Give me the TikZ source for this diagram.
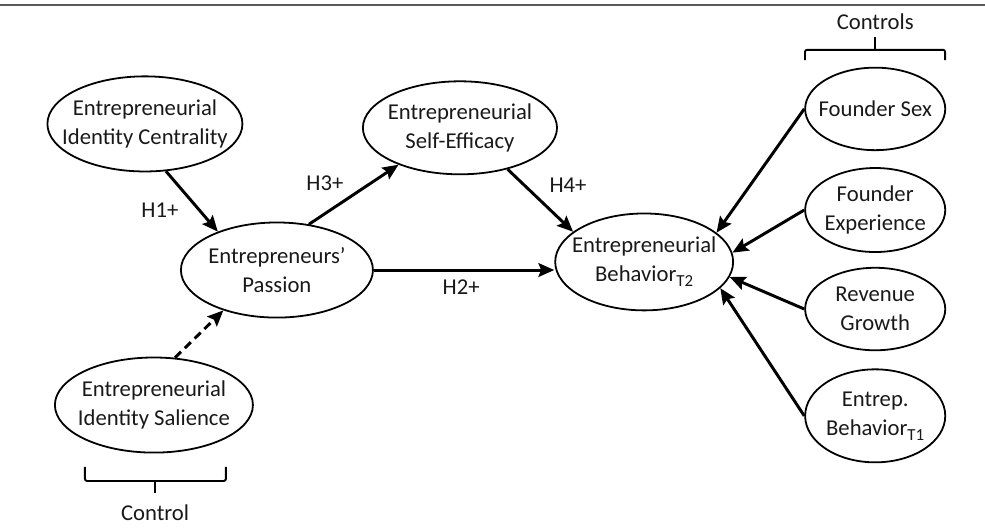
\documentclass[tikz,border=0pt]{standalone}
\usepackage{fontspec}
\setmainfont{Carlito}
\usetikzlibrary{shapes,arrows.meta,positioning}
\newcommand{\tsub}[1]{\raisebox{-0.45ex}{\fontsize{16}{16}\selectfont #1}}

\begin{document}
\begin{tikzpicture}[var/.style={ellipse,draw,line width=1.7pt,inner xsep=-14pt,inner ysep=0pt,align=center,minimum width=6.4cm,minimum height=3.17cm},
                    ctl/.style={var,minimum width=4.67cm,minimum height=2.75cm},
                    arr/.style={-{Stealth[length=15pt,width=13pt,inset=2.5pt]},line width=2.8pt},
                    brace/.style={line width=1.8pt,rounded corners=2pt},
                    every node/.style={font=\fontsize{21.5}{27.5}\selectfont,text=black!90}]
                      \useasboundingbox (0,0) rectangle (32.83,17.63);
                      \draw[line width=2pt,black!65] (0,17.47) -- (32.83,17.47);

                      \node[var,minimum width=6.5cm] (eic) at (4.83,13.5) {Entrepreneurial\\Identity Centrality};
                      \node[var,minimum width=6.47cm,minimum height=3.1cm] (ese) at (15.33,13.37) {Entrepreneurial\\Self-Efficacy};
                      \node[var] (pas) at (9.23,8.63) {Entrepreneurs'\\Passion};
                      \node[var,minimum width=5.93cm,minimum height=3.23cm] (beh) at (21.47,8.9) {Entrepreneurial\\Behavior\tsub{T2}};
                      \node[var,minimum width=6.6cm] (eis) at (5.13,4.13) {Entrepreneurial\\Identity Salience};

                      \node[ctl] (fsex) at (29.17,14.0) {Founder Sex};
                      \node[ctl,minimum height=2.8cm] (fexp) at (29.17,10.63) {Founder\\Experience};
                      \node[ctl] (rgro) at (29.17,7.33) {Revenue\\Growth};
                      \node[ctl,minimum height=3.1cm] (bt1) at (29.17,3.77) {Entrep.\\Behavior\tsub{T1}};

                      \draw[arr] (eic.-66) -- (pas.147);
                      \draw[arr] (pas.55) -- (ese.-149);
                      \draw[arr] (ese.-41) -- (beh.157);
                      \draw[arr] (pas.east) -- (pas.east -| beh.west);
                      \draw[arr,dash pattern=on 8pt off 5pt] (eis.66) -- (pas.-143);

                      \draw[arr] (fsex.west) -- (beh.22);
                      \draw[arr] (fexp.west) -- (beh.6);
                      \draw[arr] (rgro.west) -- (beh.-10);
                      \draw[arr] (bt1.west) -- (beh.-19);

                      \node (h1) at (5.33,10.63) {H1+};
                      \node (h3) at (10.83,11.53) {H3+};
                      \node (h4) at (18.93,11.47) {H4+};
                      \node (h2) at (15.37,8.07) {H2+};

                      % brackets
                      \draw[brace] (26.83,15.63) -- (26.83,15.97) -- (31.5,15.97) -- (31.5,15.63);
                      \draw[brace] (29.17,15.97) -- (29.17,16.4);
                      \node (ctrls) at (29.17,16.9) {Controls};
                      \draw[brace] (2.83,2.07) -- (2.83,1.6) -- (7.53,1.6) -- (7.53,2.07);
                      \draw[brace] (5.18,1.6) -- (5.18,1.2);
                      \node (ctrl) at (5.17,0.53) {Control};
                    \end{tikzpicture}
\end{document}
